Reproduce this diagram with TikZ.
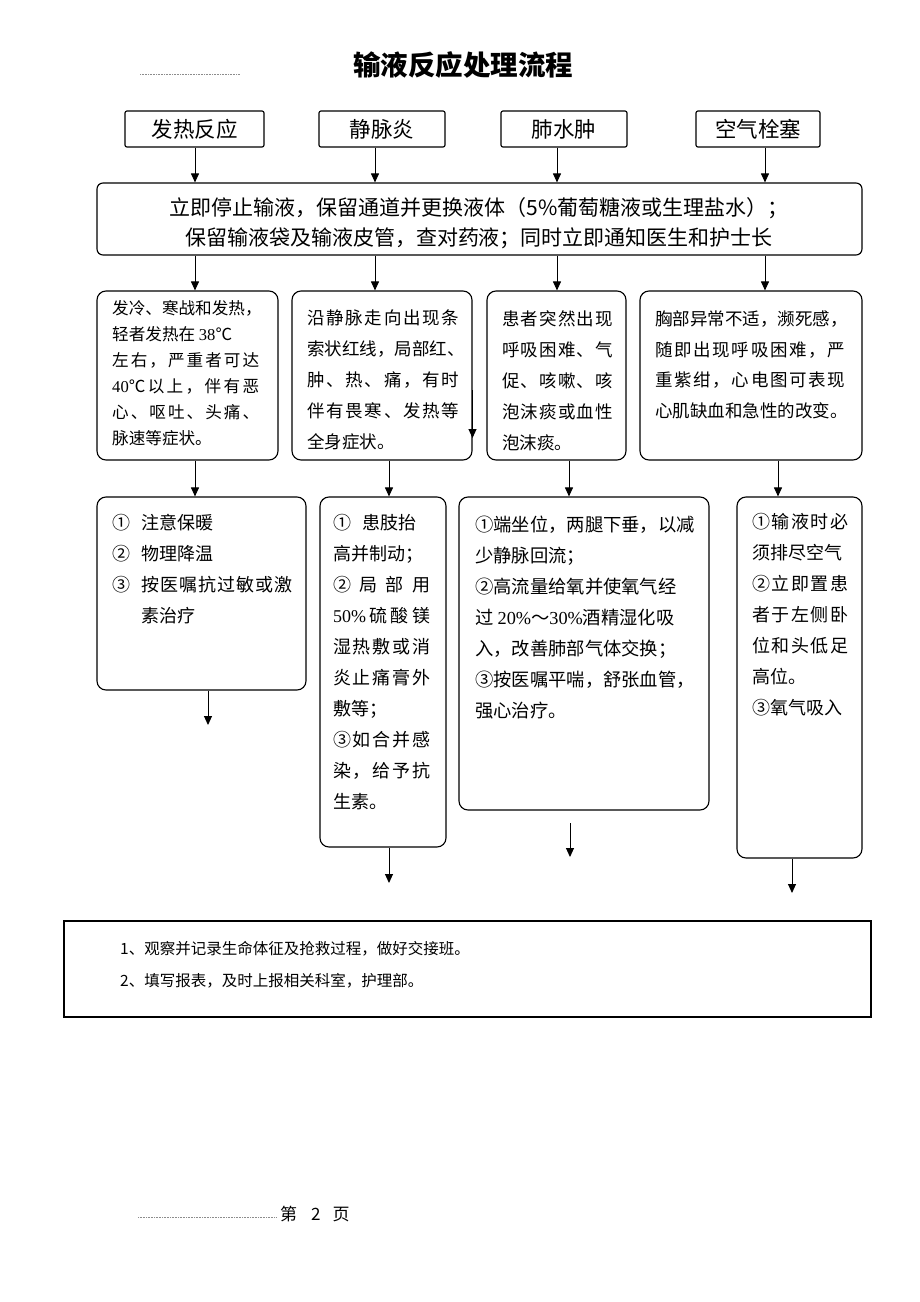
\documentclass[tikz,border=0pt]{standalone}
\usepackage{fontspec}
\setmainfont{Liberation Serif}
\newfontfamily\cjk{Noto Sans CJK SC}
\usetikzlibrary{arrows.meta}
\long\def\jlgob#1{}
\long\def\jlfirst#1{#1}
\def\jlendmark{\relax}
\def\jlaux#1#2{#1\def\jltmp{#2}\ifx\jltmp\jlendmark\expandafter\jlgob\else\expandafter\jlfirst\fi{\hfil\jlaux{#2}}}
\newcommand\jl[2]{\makebox[#1][s]{\jlaux#2\relax}}
\tikzset{
  lw/.style={line width=1.15pt},
  topbox/.style={draw, lw, rounded corners=2pt, inner sep=0, minimum height=36pt, font=\cjk\fontsize{21.5pt}{24pt}\selectfont},
  bigbox/.style={draw, lw, rounded corners=6pt, inner sep=0},
  rbox/.style={draw, lw, rounded corners=9pt, inner sep=0},
  sbox/.style={draw, lw, inner sep=0},
  txt/.style={anchor=north west, inner sep=0, align=left},
  arr/.style={line width=1pt, -{Triangle[length=9pt,width=8pt]}},
  dots/.style={draw=black!45, line width=0.6pt, densely dotted},
}
\begin{document}
\begin{tikzpicture}[x=1pt,y=-1pt]
\useasboundingbox (0,0) rectangle (920,1302);
\fill[white] (0,0) rectangle (920,1302);

% title
\node[font={\cjk\bfseries\fontsize{27.5pt}{28pt}\selectfont}, inner sep=0] (title) at (463,65) {输液反应处理流程};
\coordinate (hl1) at (140,74);
\coordinate (hl2) at (240,74);
\draw[dots] (hl1) -- (hl2);

% top boxes
\node[topbox, minimum width=139pt] (t1) at (194.5,129) {发热反应};
\node[topbox, minimum width=126pt] (t2) at (382,129) {静脉炎};
\node[topbox, minimum width=126pt] (t3) at (564,129) {肺水肿};
\node[topbox, minimum width=124pt] (t4) at (758,129) {空气栓塞};

% big box
\node[bigbox, minimum width=765pt, minimum height=72pt] (big) at (479.5,219) {};
\node[inner sep=0, align=center, font=\cjk\fontsize{21pt}{30pt}\selectfont] (bigtxt) at (479,223.5)
  {立即停止输液，保留通道并更换液体（5\%葡萄糖液或生理盐水）；\\
   保留输液袋及输液皮管，查对药液；同时立即通知医生和护士长};

% middle boxes
\node[rbox, minimum width=181pt, minimum height=169pt] (mA) at (187.5,375.5) {};
\node[rbox, minimum width=180pt, minimum height=169pt] (mB) at (382,375.5) {};
\node[rbox, minimum width=139pt, minimum height=169pt] (mC) at (556.5,375.5) {};
\node[rbox, minimum width=222pt, minimum height=169pt] (mD) at (751,375.5) {};

\node[txt, font=\cjk\fontsize{16.6pt}{26pt}\selectfont] (mAt) at (112,300.5)
  {发冷、寒战和发热，\\
   轻者发热在~{\rmfamily 38}℃\\
   \jl{147pt}{左右，严重者可达}\\
   \jl{147pt}{{{\rmfamily 40}℃}以上，伴有恶}\\
   \jl{147pt}{心、呕吐、头痛、}\\
   脉速等症状。};
\node[txt, font=\cjk\fontsize{17.5pt}{31pt}\selectfont] (mBt) at (307,310)
  {\jl{152pt}{沿静脉走向出现条}\\
   \jl{152pt}{索状红线，局部红、}\\
   \jl{152pt}{肿、热、痛，有时}\\
   \jl{152pt}{伴有畏寒、发热等}\\
   全身症状。};
\node[txt, font=\cjk\fontsize{17.5pt}{31pt}\selectfont] (mCt) at (502,310)
  {\jl{111pt}{患者突然出现}\\
   \jl{111pt}{呼吸困难、气}\\
   \jl{111pt}{促、咳嗽、咳}\\
   \jl{111pt}{泡沫痰或血性}\\
   泡沫痰。};
\node[txt, font=\cjk\fontsize{17.5pt}{30.5pt}\selectfont] (mDt) at (655,311)
  {胸部异常不适，濒死感，\\
   \jl{190pt}{随即出现呼吸困难，严}\\
   \jl{190pt}{重紫绀，心电图可表现}\\
   心肌缺血和急性的改变。};

% lower boxes
\node[rbox, minimum width=209pt, minimum height=193pt] (lA) at (201.5,593.5) {};
\node[rbox, minimum width=126pt, minimum height=350pt] (lB) at (383,672) {};
\node[rbox, minimum width=250pt, minimum height=313pt] (lC) at (584,653.5) {};
\node[rbox, minimum width=125pt, minimum height=361pt] (lD) at (799.5,677.5) {};

\node[txt, font=\cjk\fontsize{18pt}{31pt}\selectfont] (lAt) at (112,514.5)
  {\makebox[29pt][l]{①}注意保暖\\
   \makebox[29pt][l]{②}物理降温\\
   \makebox[29pt][l]{③}\jl{151pt}{按医嘱抗过敏或激}\\
   \hspace*{29pt}素治疗};
\node[txt, font=\cjk\fontsize{18pt}{31pt}\selectfont] (lBt) at (333,514)
  {\makebox[29pt][l]{①}患肢抬\\
   高并制动；\\
   \jl{97pt}{②局部用}\\
   \jl{97pt}{{{\rmfamily 50\%}}硫酸镁}\\
   \jl{97pt}{湿热敷或消}\\
   \jl{97pt}{炎止痛膏外}\\
   敷等；\\
   \jl{97pt}{③如合并感}\\
   \jl{97pt}{染，给予抗}\\
   生素。};
\node[txt, font=\cjk\fontsize{18.3pt}{31pt}\selectfont] (lCt) at (475,515.5)
  {①端坐位，两腿下垂，以减\\
   少静脉回流；\\
   ②高流量给氧并使氧气经\\
   过~{\rmfamily 20\%}～{\rmfamily 30\%}酒精湿化吸\\
   入，改善肺部气体交换；\\
   ③按医嘱平喘，舒张血管，\\
   强心治疗。};
\node[txt, font=\cjk\fontsize{18pt}{31pt}\selectfont] (lDt) at (752,513.5)
  {\jl{96pt}{①输液时必}\\
   须排尽空气\\
   \jl{96pt}{②立即置患}\\
   \jl{96pt}{者于左侧卧}\\
   \jl{96pt}{位和头低足}\\
   高位。\\
   ③氧气吸入};

% bottom box
\node[sbox, minimum width=807pt, minimum height=96pt] (bot) at (467.5,969) {};
\node[txt, font=\cjk\fontsize{15.5pt}{32pt}\selectfont] (bott) at (120,941.5)
  {1、观察并记录生命体征及抢救过程，做好交接班。\\
   2、填写报表，及时上报相关科室，护理部。};

% footer
\coordinate (fl1) at (138,1217);
\coordinate (fl2) at (276,1217);
\draw[dots] (fl1) -- (fl2);
\node[inner sep=0, anchor=west, font=\cjk\fontsize{17pt}{20pt}\selectfont] (foot) at (280,1214) {第\hspace{14pt}2\hspace{12pt}页};

% columns
\coordinate (c1) at (195,0);
\coordinate (c2) at (375,0);
\coordinate (c3) at (557,0);
\coordinate (c4) at (765,0);
\coordinate (d1) at (195,0);
\coordinate (d2) at (389,0);
\coordinate (d3) at (569,0);
\coordinate (d4) at (778,0);

\draw[arr] (t1.south -| c1) -- (big.north -| c1);
\draw[arr] (t2.south -| c2) -- (big.north -| c2);
\draw[arr] (t3.south -| c3) -- (big.north -| c3);
\draw[arr] (t4.south -| c4) -- (big.north -| c4);

\draw[arr] (big.south -| c1) -- (mA.north -| c1);
\draw[arr] (big.south -| c2) -- (mB.north -| c2);
\draw[arr] (big.south -| c3) -- (mC.north -| c3);
\draw[arr] (big.south -| c4) -- (mD.north -| c4);

\draw[arr] (mA.south -| d1) -- (lA.north -| d1);
\draw[arr] (mB.south -| d2) -- (lB.north -| d2);
\draw[arr] (mC.south -| d3) -- (lC.north -| d3);
\draw[arr] (mD.south -| d4) -- (lD.north -| d4);

% stray arrow on right edge of mB
\coordinate (sB) at (472.5,390);
\coordinate (eB) at (472.5,438);
\draw[arr] (sB) -- (eB);

% outgoing arrows
\coordinate (eA) at (208,725);
\coordinate (eBB) at (389,883);
\coordinate (sC) at (570,823);
\coordinate (eC) at (570,857);
\coordinate (eD) at (792,893);
\draw[arr] (lA.south -| eA) -- (eA);
\draw[arr] (lB.south -| eBB) -- (eBB);
\draw[arr] (sC) -- (eC);
\draw[arr] (lD.south -| eD) -- (eD);
\end{tikzpicture}
\end{document}
